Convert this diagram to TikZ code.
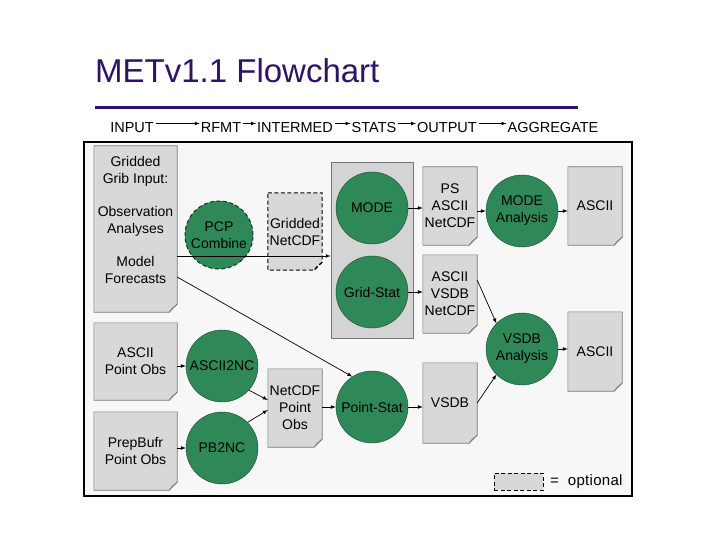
\documentclass[tikz,border=0pt]{standalone}
\usepackage{fontspec}
\setmainfont{Liberation Sans}
\usetikzlibrary{arrows,positioning}

\definecolor{titlepurple}{RGB}{48,18,104}
\definecolor{procgreen}{RGB}{46,136,88}
\definecolor{docgray}{RGB}{216,216,216}
\definecolor{statgray}{RGB}{212,212,212}
\definecolor{edgegray}{RGB}{118,118,118}
\definecolor{framebg}{RGB}{247,247,247}

% outline of a document with its folded corner
\newcommand{\docedge}[2][docline]{%
  \fill[framebg] ([xshift=-8pt]#2.south east) -- (#2.south east) -- ([yshift=8pt]#2.south east) -- cycle;
  \draw[#1] (#2.north west) -- (#2.north east) -- ([yshift=8pt]#2.south east)
      -- ([xshift=-8pt]#2.south east) -- (#2.south west) -- cycle;
  \draw[#1] ([yshift=8pt]#2.south east) -- ([xshift=-5pt,yshift=4pt]#2.south east) -- ([xshift=-8pt]#2.south east);
}

\begin{document}
\begin{tikzpicture}[x=1pt,y=-1pt,>=latex,
    doc/.style={rectangle,fill=docgray,inner sep=1pt,align=center,minimum width=54pt,minimum height=78pt,font=\fontsize{14}{17}\selectfont},
    wide/.style={minimum width=83pt},
    proc/.style={circle,fill=procgreen,draw=procgreen!55!black,inner sep=0pt,minimum size=72pt,align=center,font=\fontsize{14}{17}\selectfont},
    hdr/.style={anchor=base,inner sep=0pt,font=\fontsize{14.5}{17}\selectfont},
    docline/.style={draw=edgegray,line width=0.6pt},
    optline/.style={draw=black,line width=1pt,dash pattern=on 4pt off 2.5pt},
    flow/.style={->,line width=0.7pt},
    hdrflow/.style={->,line width=0.7pt,shorten >=1pt,shorten <=2pt}]

\useasboundingbox[fill=white] (0,0) rectangle (720,540);

% title
\node[anchor=base west,inner sep=0pt,text=titlepurple,font=\fontsize{33}{38}\selectfont] (title) at (95,83) {METv1.1 Flowchart};
\draw[titlepurple,line width=3pt] (95,108) -- (578,108);

% stage headers
\node[hdr] (input) at (132,133) {INPUT};
\node[hdr] (rfmt) at (221,133) {RFMT};
\node[hdr] (intermed) at (295,133) {INTERMED};
\node[hdr] (stats) at (374,133) {STATS};
\node[hdr] (output) at (447,133) {OUTPUT};
\node[hdr] (aggregate) at (553,133) {AGGREGATE};
\foreach \a/\b in {input/rfmt,rfmt/intermed,intermed/stats,stats/output,output/aggregate}
  \draw[hdrflow] ([yshift=9.5pt]\a.base east) -- ([yshift=9.5pt]\b.base west);

% frame
\draw[fill=framebg,line width=1.5pt] (84,142) rectangle (632,496);

\node[rectangle,fill=statgray,draw=edgegray,line width=0.6pt,minimum width=82pt,minimum height=176pt] (statsbox) at (372,250) {};

% input documents
\node[doc,wide,minimum height=166pt] (grib) at (135.5,229) {Gridded\\Grib Input:\\[16pt]Observation\\Analyses\\[16pt]Model\\Forecasts\\[-3pt]\strut};
\node[doc,wide,minimum height=77pt] (asciiobs) at (135.5,361.5) {ASCII\\Point Obs};
\node[doc,wide] (prepbufr) at (135.5,451) {PrepBufr\\Point Obs};

% reformat
\node[proc,minimum size=68pt,optline,draw=procgreen!40!black] (pcp) at (219,235) {PCP\\Combine};
\node[proc] (ascii2nc) at (222,366) {ASCII2NC};
\node[proc] (pb2nc) at (222,448) {PB2NC};

% intermediate
\node[doc,minimum height=77pt] (gnetcdf) at (295,231.5) {Gridded\\NetCDF};
\node[doc] (ncpoint) at (295,408) {NetCDF\\Point\\Obs};

% statistics
\node[proc] (mode) at (372,208) {MODE};
\node[proc] (gridstat) at (372,292) {Grid-Stat};
\node[proc] (pointstat) at (372,407) {Point-Stat};

% output
\node[doc] (psdoc) at (450,206) {PS\\ASCII\\NetCDF};
\node[doc] (vsdbdoc) at (450,294) {ASCII\\VSDB\\NetCDF};
\node[doc,minimum height=80pt] (vsdb) at (450,403) {VSDB};

% aggregate
\node[proc] (modeana) at (522,211) {MODE\\Analysis};
\node[proc] (vsdbana) at (522,349) {VSDB\\Analysis};
\node[doc] (asciitop) at (595,206) {ASCII};
\node[doc,minimum height=79pt] (asciibot) at (595,351.5) {ASCII};

% legend
\node[rectangle,fill=docgray,optline,minimum width=49pt,minimum height=17pt] (optbox) at (518.5,481.5) {};
\node[anchor=west,inner sep=0pt,font=\fontsize{15}{18}\selectfont\addfontfeature{LetterSpace=2}] (opttext) at (550,482) {=\ \ optional};

\foreach \d in {grib,asciiobs,prepbufr,ncpoint,psdoc,vsdbdoc,vsdb,asciitop,asciibot}
  \docedge{\d};
\docedge[optline]{gnetcdf}

% connectors
\coordinate (gribout) at ([yshift=-27pt]grib.east);
\draw[flow] (gribout) -- (gribout -| statsbox.west);
\draw[flow] ([yshift=-48pt]grib.east) -- (pointstat.123);
\draw[flow] (asciiobs.east |- ascii2nc) -- (ascii2nc);
\draw[flow] (prepbufr.east |- pb2nc) -- (pb2nc);
\draw[flow] (ascii2nc.-42) -- ([yshift=8pt]ncpoint.west);
\draw[flow] (pb2nc.45) -- ([yshift=-2pt]ncpoint.west);
\draw[flow] (ncpoint.east |- pointstat) -- (pointstat);
\draw[flow] (mode) -- (mode -| psdoc.west);
\draw[flow] (gridstat) -- (gridstat -| vsdbdoc.west);
\draw[flow] (pointstat) -- (pointstat -| vsdb.west);
\draw[flow] (psdoc.east |- modeana) -- (modeana);
\draw[flow] ([yshift=14pt]vsdbdoc.east) -- (vsdbana.135);
\draw[flow] (vsdb.east) -- (vsdbana.225);
\draw[flow] (modeana) -- (modeana -| asciitop.west);
\draw[flow] (vsdbana) -- (vsdbana -| asciibot.west);
\end{tikzpicture}
\end{document}
